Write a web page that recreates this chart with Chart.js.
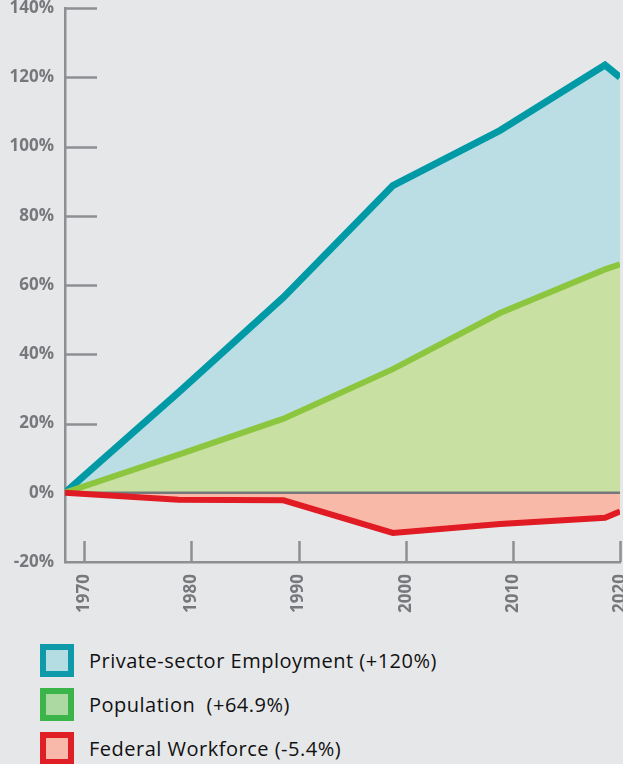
<!DOCTYPE html>
<html>
<head>
<meta charset="utf-8">
<script src="https://cdn.jsdelivr.net/npm/chart.js@4.4.1/dist/chart.umd.min.js"></script>
<style>
  html, body { margin: 0; padding: 0; background: #e6e7e9; }
  #wrap { position: relative; width: 623px; height: 764px; overflow: hidden; }
  #chartBox { position: absolute; left: 0; top: 0; width: 623px; height: 625px; }
  #legend { position: absolute; left: 40px; top: 638px; font-family: "Open Sans", sans-serif; font-size: 20px; font-weight: 500; letter-spacing: 0.5px; color: #111; }
  .item { display: flex; align-items: center; height: 44px; }
  .box { width: 22px; height: 21px; border: 6px solid; margin-right: 15px; flex: none; }
  .item span { white-space: pre; }
</style>
</head>
<body>
<div id="wrap">
  <div id="chartBox"><canvas id="chart"></canvas></div>
  <div id="legend"></div>
</div>
<script>
  // datos
  const anios = [1968.2, 1978.8, 1988.6, 1998.8, 2008.8, 2018.6, 2020];
  const privado = [0, 29, 56.5, 88.7, 104.6, 123.5, 120];
  const poblacion = [0, 11, 21.4, 35.7, 51.9, 64.5, 66];
  const federal = [0, -2, -2.2, -11.6, -9, -7.2, -5.4];
  const ticksX = [1970, 1980, 1990, 2000, 2010, 2020];
  const etiquetas = ['Private-sector Employment (+120%)', 'Population  (+64.9%)', 'Federal Workforce (-5.4%)'];

  const colLinea = ['#009aa7', '#8cc63f', '#e01b23'];
  const colRelleno = ['#bbdee5', '#c9e0a3', '#f9b9a8'];
  const colLeyendaBorde = ['#0f9aa9', '#3bb54a', '#e01e25'];
  const colLeyendaFondo = ['#b3dde2', '#acd8a2', '#f9b9aa'];
  const gris = '#8e8f92';

  const puntos = arr => arr.map((v, i) => ({ x: anios[i], y: v }));

  // marcas de ejes hacia adentro
  const marcasInternas = {
    id: 'marcasInternas',
    beforeDatasetsDraw(chart) {
      const { ctx, scales: { x, y } } = chart;
      ctx.save();
      ctx.strokeStyle = gris;
      ctx.lineWidth = 2.5;
      y.ticks.forEach(t => {
        if (t.value <= 0) return;
        const py = Math.round(y.getPixelForValue(t.value)) + 0.5;
        ctx.beginPath();
        ctx.moveTo(x.left, py);
        ctx.lineTo(x.left + 32, py);
        ctx.stroke();
      });
      x.ticks.forEach(t => {
        const px = Math.round(x.getPixelForValue(t.value)) + 0.5;
        ctx.beginPath();
        ctx.moveTo(px, y.bottom);
        ctx.lineTo(px, y.bottom - 21);
        ctx.stroke();
      });
      ctx.restore();
    }
  };

  new Chart(document.getElementById('chart'), {
    type: 'line',
    data: {
      datasets: [
        { label: etiquetas[2], data: puntos(federal), borderColor: colLinea[2], backgroundColor: colRelleno[2], borderWidth: 6, fill: 'origin' },
        { label: 'cero', data: [{ x: anios[0], y: 0 }, { x: 2020, y: 0 }], borderColor: '#77787b', borderWidth: 2.5, fill: false },
        { label: etiquetas[1], data: puntos(poblacion), borderColor: colLinea[1], backgroundColor: colRelleno[1], borderWidth: 6, fill: 'origin' },
        { label: etiquetas[0], data: puntos(privado), borderColor: colLinea[0], backgroundColor: colRelleno[0], borderWidth: 7, fill: 'origin' }
      ]
    },
    options: {
      responsive: true,
      maintainAspectRatio: false,
      animation: false,
      elements: { point: { radius: 0 }, line: { tension: 0, borderJoinStyle: 'miter' } },
      layout: { padding: { top: 8, right: 3, left: 0, bottom: 0 } },
      plugins: {
        legend: { display: false },
        tooltip: { enabled: false },
        filler: { drawTime: 'beforeDatasetsDraw' }
      },
      scales: {
        x: {
          type: 'linear',
          min: anios[0],
          max: 2020,
          afterBuildTicks: s => { s.ticks = ticksX.map(v => ({ value: v })); },
          afterFit: s => { s.height = 63; s.paddingLeft = 0; s.paddingRight = 0; },
          grid: { display: false, drawTicks: false },
          border: { display: true, color: gris, width: 2.5 },
          ticks: {
            minRotation: 90, maxRotation: 90, padding: 12,
            color: '#77787b',
            font: { family: 'Open Sans', size: 17, weight: 'bold' },
            callback: v => String(v)
          }
        },
        y: {
          min: -20,
          max: 140,
          afterFit: s => { s.width = 65; s.paddingTop = 0; s.paddingBottom = 0; },
          grid: { display: false, drawTicks: false },
          border: { display: true, color: gris, width: 2.5 },
          ticks: {
            stepSize: 20, padding: 11,
            color: '#77787b',
            font: { family: 'Open Sans', size: 17, weight: 'bold', lineHeight: 1 },
            callback: v => v + '%'
          }
        }
      }
    },
    plugins: [marcasInternas]
  });

  // leyenda
  const leyenda = document.getElementById('legend');
  etiquetas.forEach((txt, i) => {
    const item = document.createElement('div');
    item.className = 'item';
    const caja = document.createElement('div');
    caja.className = 'box';
    caja.style.borderColor = colLeyendaBorde[i];
    caja.style.background = colLeyendaFondo[i];
    const span = document.createElement('span');
    span.textContent = txt;
    item.appendChild(caja);
    item.appendChild(span);
    leyenda.appendChild(item);
  });
</script>
</body>
</html>
